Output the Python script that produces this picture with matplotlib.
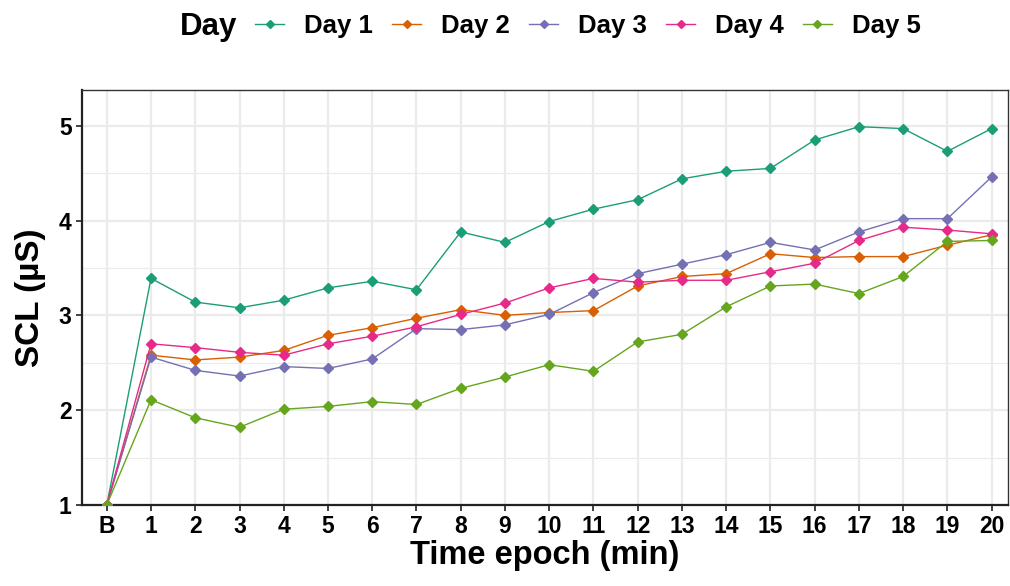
import matplotlib

matplotlib.use('Agg')

import matplotlib.pyplot as plt

plt.rcParams['font.family'] = ['Liberation Sans', 'DejaVu Sans']
plt.rcParams['font.weight'] = 'bold'

epochs = ['B'] + [str(i) for i in range(1, 21)]

day1 = [1.0, 3.39, 3.14, 3.08, 3.16, 3.29, 3.36, 3.27, 3.88, 3.77, 3.99,
        4.12, 4.22, 4.44, 4.52, 4.55, 4.85, 4.99, 4.97, 4.73, 4.97]
day2 = [1.0, 2.58, 2.53, 2.56, 2.63, 2.79, 2.87, 2.97, 3.06, 3.00, 3.03,
        3.05, 3.31, 3.41, 3.44, 3.65, 3.61, 3.62, 3.62, 3.74, 3.85]
day3 = [1.0, 2.56, 2.42, 2.36, 2.46, 2.44, 2.54, 2.86, 2.85, 2.90, 3.01,
        3.24, 3.44, 3.54, 3.64, 3.77, 3.69, 3.88, 4.02, 4.02, 4.46]
day4 = [1.0, 2.70, 2.66, 2.61, 2.58, 2.70, 2.78, 2.88, 3.01, 3.13, 3.29,
        3.39, 3.35, 3.37, 3.37, 3.46, 3.55, 3.79, 3.93, 3.90, 3.86]
day5 = [1.0, 2.11, 1.92, 1.82, 2.01, 2.04, 2.09, 2.06, 2.23, 2.35, 2.48,
        2.41, 2.72, 2.80, 3.09, 3.31, 3.33, 3.23, 3.41, 3.78, 3.79]

series = {'Day 1': day1, 'Day 2': day2, 'Day 3': day3, 'Day 4': day4, 'Day 5': day5}
colors = ['#1B9E77', '#D95F02', '#7570B3', '#E7298A', '#66A61E']

fig = plt.figure(figsize=(10.10, 5.86), dpi=100)
ax = fig.add_axes([82 / 1010, (586 - 505) / 586, 926 / 1010, (505 - 90) / 586])

x = list(range(len(epochs)))
for (name, vals), c in zip(series.items(), colors):
    ax.plot(x, vals, color=c, lw=1.0, marker='D', ms=5.6, label=name, zorder=3)

ax.set_xlim(-0.56, 20.37)
ax.set_ylim(1.0, 5.377)
ax.set_xticks(x)
ax.set_xticklabels(epochs)
ax.set_yticks([1, 2, 3, 4, 5])
ax.set_yticks([1.5, 2.5, 3.5, 4.5], minor=True)
ax.grid(which='major', color='#ebebeb', lw=1.6)
ax.grid(which='minor', axis='y', color='#ebebeb', lw=0.8)
ax.set_axisbelow(True)

ax.tick_params(axis='both', which='major', labelsize=16.5, length=4.5, width=1.3,
               color='#333333', labelcolor='black', pad=3)
ax.tick_params(axis='y', which='minor', length=0)
for lab in ax.get_xticklabels() + ax.get_yticklabels():
    lab.set_fontweight('bold')

for side in ['left', 'bottom']:
    ax.spines[side].set_color('#222222')
    ax.spines[side].set_linewidth(1.6)
for side in ['top', 'right']:
    ax.spines[side].set_color('#333333')
    ax.spines[side].set_linewidth(1.0)

ax.set_xlabel('Time epoch (min)', fontsize=23.5, fontweight='bold', labelpad=1)
ax.set_ylabel('SCL (\u00b5S)', fontsize=24, fontweight='bold', labelpad=9)

fig.text(180 / 1010, 1 - 27 / 586, 'Day', fontsize=22.5, fontweight='bold',
         va='center', ha='left')
handles, labels = ax.get_legend_handles_labels()
fig.legend(handles, labels, loc='center left', bbox_to_anchor=(245 / 1010, 1 - 26 / 586),
           ncol=5, frameon=False, handlelength=1.13,
           columnspacing=0.74, handletextpad=0.78, markerscale=0.75,
           borderpad=0.2, borderaxespad=0.2,
           prop={'weight': 'bold', 'size': 18.5})

fig.savefig('out.png', dpi=100)
